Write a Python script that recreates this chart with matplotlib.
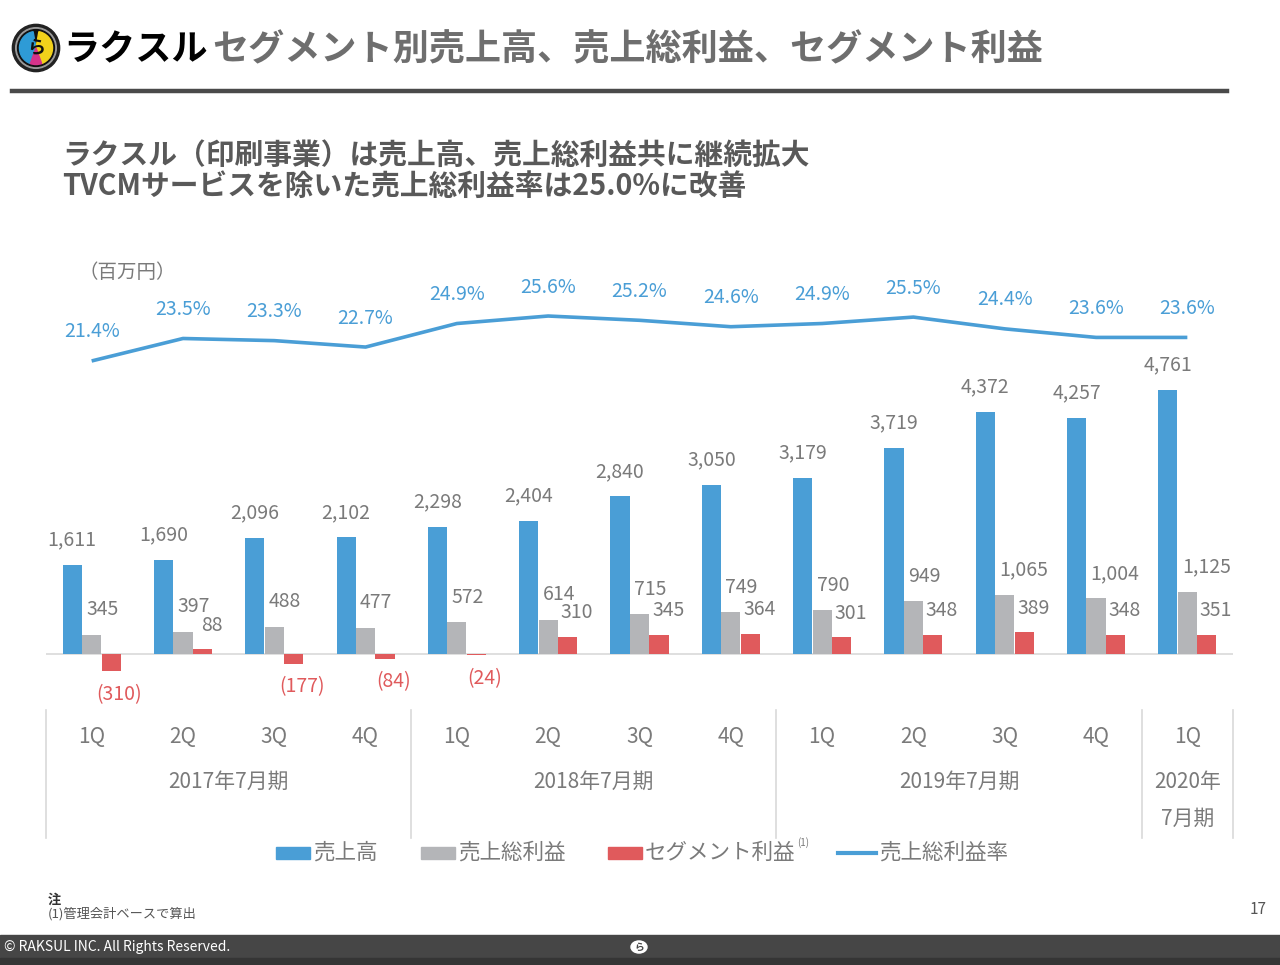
import matplotlib
matplotlib.use('Agg')
import matplotlib.pyplot as plt
from matplotlib.patches import Rectangle, Circle, Wedge
from matplotlib.lines import Line2D
import matplotlib.transforms as mtransforms

plt.rcParams['font.family'] = ['Noto Sans CJK JP', 'DejaVu Sans']

# ---------------- data ----------------
quarters = ['1Q', '2Q', '3Q', '4Q', '1Q', '2Q', '3Q', '4Q', '1Q', '2Q', '3Q', '4Q', '1Q']
fiscal_years = ['2017年7月期', '2018年7月期', '2019年7月期', '2020年\n7月期']
fiscal_year_quarters = [4, 4, 4, 1]
sales = [1611, 1690, 2096, 2102, 2298, 2404, 2840, 3050, 3179, 3719, 4372, 4257, 4761]
gross_profit = [345, 397, 488, 477, 572, 614, 715, 749, 790, 949, 1065, 1004, 1125]
segment_profit = [-310, 88, -177, -84, -24, 310, 345, 364, 301, 348, 389, 348, 351]
gross_margin = [21.4, 23.5, 23.3, 22.7, 24.9, 25.6, 25.2, 24.6, 24.9, 25.5, 24.4, 23.6, 23.6]
legend_labels = ['売上高', '売上総利益', 'セグメント利益', '売上総利益率']

title = 'セグメント別売上高、売上総利益、セグメント利益'
subtitle1 = 'ラクスル（印刷事業）は売上高、売上総利益共に継続拡大'
subtitle2 = 'TVCMサービスを除いた売上総利益率は25.0%に改善'
unit_label = '（百万円）'

# ---------------- style ----------------
BLUE = '#4A9ED6'
GRAY = '#B4B5B8'
RED = '#E05A5C'
TXT = '#7A7A7A'
SEP = '#D9D9D9'

W, H = 1280, 965
fig = plt.figure(figsize=(W / 100, H / 100), dpi=100)
fig.patch.set_facecolor('white')


def fx(x):
    return x / W


def fy(y):
    return 1 - y / H


# ---------------- header ----------------
logo_ax = fig.add_axes([fx(10), fy(74), fx(52), 52 / H])
logo_ax.set_xlim(-1.1, 1.1)
logo_ax.set_ylim(-1.1, 1.1)
logo_ax.set_aspect('equal')
logo_ax.axis('off')
logo_ax.add_patch(Circle((0, 0), 1.0, color='#222222'))
logo_ax.add_patch(Circle((0, 0), 0.86, color='#9a9a9a'))
logo_ax.add_patch(Circle((0, 0), 0.78, color='#111111'))
logo_ax.add_patch(Wedge((0, 0), 0.7, 100, 250, color='#2E9BD6'))
logo_ax.add_patch(Wedge((0, 0), 0.7, 290, 80, color='#F2D21B'))
logo_ax.add_patch(Wedge((0, 0), 0.7, 250, 290, color='#D6338A'))
logo_ax.text(0, 0, 'ら', ha='center', va='center', fontsize=13, color='#111111', fontweight='bold')
fig.text(fx(63), fy(50), 'ラクスル', fontsize=26, fontweight='bold', color='black',
         ha='left', va='center')

fig.text(fx(212), fy(50), title, fontsize=26, fontweight='bold', color='#6E6E6E',
         ha='left', va='center')
fig.add_artist(Line2D([fx(12), fx(1227)], [fy(91), fy(91)], color='#4A4A4A', lw=3.2))

fig.text(fx(62), fy(155), subtitle1, fontsize=20.7, fontweight='bold', color='#595959',
         ha='left', va='center')
fig.text(fx(62), fy(186), subtitle2, fontsize=20.7, fontweight='bold', color='#595959',
         ha='left', va='center')
fig.text(fx(78), fy(272), unit_label, fontsize=14, color=TXT, ha='left', va='center')

# ---------------- chart ----------------
ax = fig.add_axes([fx(46), fy(710), (1233 - 46) / W, (710 - 250) / H])
ax.set_xlim(-0.5, 12.5)
ax.set_ylim(-1010, 7284)
ax.axis('off')

n = len(sales)
xs = list(range(n))
bw = 0.21
off = 0.213

ax.bar([x - off for x in xs], sales, width=bw, color=BLUE, zorder=2)
ax.bar(xs, gross_profit, width=bw, color=GRAY, zorder=2)
ax.bar([x + off for x in xs], segment_profit, width=bw, color=RED, zorder=2)
ax.axhline(0, color=SEP, lw=1.2, zorder=1)


def fmt(v):
    return f'({abs(v):,})' if v < 0 else f'{v:,}'


for x, v in zip(xs, sales):
    ax.annotate(fmt(v), (x - off, v), xytext=(0, 25), textcoords='offset pixels',
                ha='center', va='center', fontsize=14, color=TXT)
for x, v in zip(xs, gross_profit):
    ax.annotate(fmt(v), (x - 0.06, v), xytext=(0, 25), textcoords='offset pixels',
                ha='left', va='center', fontsize=14, color=TXT)
for x, v in zip(xs, segment_profit):
    if v < 0:
        ax.annotate(fmt(v), (x + off + 0.09, v), xytext=(0, -23), textcoords='offset pixels',
                    ha='center', va='center', fontsize=14, color=RED)
    else:
        ax.annotate(fmt(v), (x + off + 0.1, v), xytext=(0, 24), textcoords='offset pixels',
                    ha='center', va='center', fontsize=14, color=TXT)

ax2 = ax.twinx()
ax2.set_ylim(-11.22, 31.77)
ax2.axis('off')
ax2.plot(xs, gross_margin, color=BLUE, lw=2.6, solid_capstyle='butt', zorder=3)
for x, v in zip(xs, gross_margin):
    ax2.annotate(f'{v:.1f}%', (x, v), xytext=(0, 29), textcoords='offset pixels',
                 ha='center', va='center', fontsize=14, color=BLUE)

# category axis
trans = mtransforms.blended_transform_factory(ax.transData, fig.transFigure)
for x, q in zip(xs, quarters):
    fig.text(x, fy(737), q, transform=trans, ha='center', va='center', fontsize=15, color=TXT)

start = 0
seps = [-0.5]
for fyname, cnt in zip(fiscal_years, fiscal_year_quarters):
    center = start + (cnt - 1) / 2
    lines = fyname.split('\n')
    for i, ln in enumerate(lines):
        fig.text(center, fy(782 + 37 * i), ln, transform=trans, ha='center', va='center',
                 fontsize=15, color=TXT)
    start += cnt
    seps.append(start - 0.5)
for s in seps:
    fig.add_artist(Line2D([s, s], [fy(710), fy(838)], transform=trans, color=SEP, lw=1.2))

# ---------------- legend ----------------
ly = 853
fig.add_artist(Rectangle((fx(276), fy(ly + 6)), 34 / W, 12 / H, color=BLUE))
fig.text(fx(313), fy(ly), legend_labels[0], fontsize=15.5, color=TXT, ha='left', va='center')
fig.add_artist(Rectangle((fx(421), fy(ly + 6)), 34 / W, 12 / H, color=GRAY))
fig.text(fx(458), fy(ly), legend_labels[1], fontsize=15.5, color=TXT, ha='left', va='center')
fig.add_artist(Rectangle((fx(608), fy(ly + 6)), 34 / W, 12 / H, color=RED))
fig.text(fx(645), fy(ly), legend_labels[2], fontsize=15.5, color=TXT, ha='left', va='center')
fig.text(fx(797), fy(ly - 10), '(1)', fontsize=7, color=TXT, ha='left', va='center')
fig.add_artist(Line2D([fx(838), fx(876)], [fy(ly), fy(ly)], color=BLUE, lw=3))
fig.text(fx(879), fy(ly), legend_labels[3], fontsize=15.5, color=TXT, ha='left', va='center')

# ---------------- notes & footer ----------------
fig.text(fx(48), fy(900), '注', fontsize=9.5, fontweight='bold', color='#333333',
         ha='left', va='center')
fig.text(fx(48), fy(914), '(1)管理会計ベースで算出', fontsize=9.5, color='#555555',
         ha='left', va='center')
fig.text(fx(1267), fy(910), '17', fontsize=11, color='#555555', ha='right', va='center')

fig.add_artist(Rectangle((0, fy(958)), 1, 23 / H, color='#464646'))
fig.add_artist(Rectangle((0, 0), 1, 7 / H, color='#353535'))
fig.text(fx(4), fy(947), '© RAKSUL INC. All Rights Reserved.', fontsize=10, color='white',
         ha='left', va='center')
fig.add_artist(Circle((fx(639), fy(947)), 8 / W, color='white', transform=fig.transFigure))
fig.text(fx(639), fy(947), 'ら', fontsize=7, color='#464646', ha='center', va='center',
         fontweight='bold')

fig.savefig('out.png', dpi=100)
